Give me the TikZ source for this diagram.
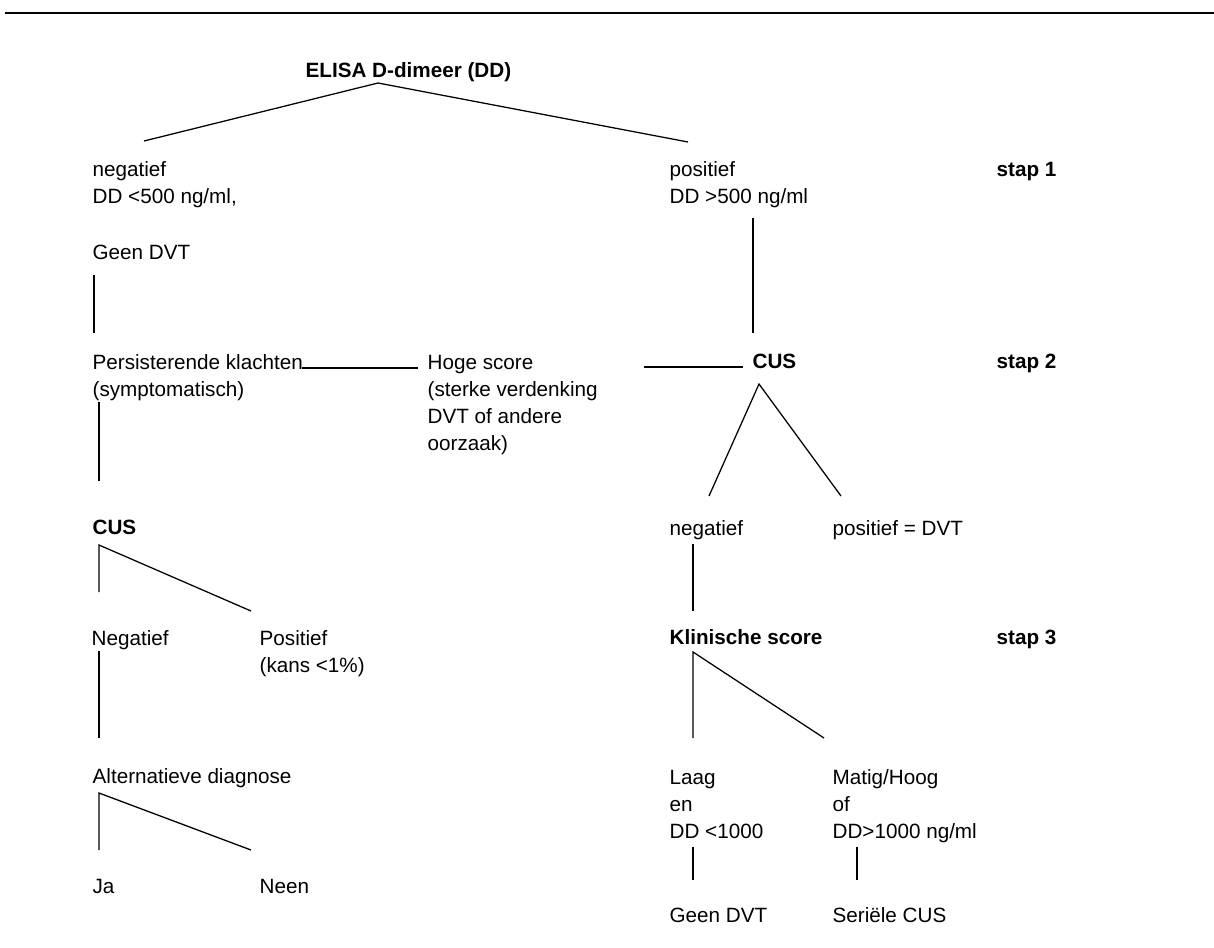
\documentclass[tikz,border=0pt]{standalone}
\usepackage{fontspec}
\setmainfont{Liberation Sans}
\usetikzlibrary{calc}

\begin{document}
\begin{tikzpicture}[x=0.025cm,y=-0.025cm,line width=0.9pt,
    tekst/.style={anchor=base west,inner sep=0pt,align=left,font=\fontsize{14.7}{19.2}\selectfont},
    vet/.style={tekst,font=\fontsize{14.7}{19.2}\selectfont\bfseries}]
    \useasboundingbox (0,0) rectangle (1214,947);
    \draw[line width=1.5pt] (5,13)--(1214,13);
    % stap 1 (meerregelige nodes: base = laatste regel)
    \node[vet] (root) at (305,77) {ELISA D-dimeer (DD)};
    \node[tekst] (neg1) at (92,203) {negatief\\DD <500 ng/ml,};
    \node[tekst] (pos1) at (669,203) {positief\\DD >500 ng/ml};
    \node[vet] (stap1) at (996,176) {stap 1};
    \node[tekst] (geen1) at (92,259) {Geen DVT};
    % stap 2
    \node[tekst] (pers) at (92,396) {Persisterende klachten\\(symptomatisch)};
    \node[tekst] (hoog) at (427,450) {Hoge score\\(sterke verdenking\\DVT of andere\\oorzaak)};
    \node[vet] (cusr) at (752,368) {CUS};
    \node[vet] (stap2) at (996,368) {stap 2};
    \node[vet] (cusl) at (92,534) {CUS};
    \node[tekst] (negr) at (669,535) {negatief};
    \node[tekst] (posr) at (832,535) {positief = DVT};
    \node[tekst] (negl) at (91,645) {Negatief};
    \node[tekst] (posl) at (259,672) {Positief\\(kans <1\%)};
    % stap 3
    \node[vet] (klin) at (669,644) {Klinische score};
    \node[vet] (stap3) at (996,644) {stap 3};
    \node[tekst] (alt) at (92,783) {Alternatieve diagnose};
    \node[tekst] (laag) at (669,838) {Laag\\en\\DD <1000};
    \node[tekst] (matig) at (832,838) {Matig/Hoog\\of\\DD>1000 ng/ml};
    \node[tekst] (ja) at (92,893) {Ja};
    \node[tekst] (neen) at (259,893) {Neen};
    \node[tekst] (geenr) at (669,922) {Geen DVT};
    \node[tekst] (serie) at (832,922) {Seriële CUS};
    % verbindingen
    \draw ($(neg1.base west)+(52,-62)$)--($(root.base west)+(73,6)$)--($(pos1.base west)+(19,-61)$);
    \draw ($(pos1.base west)+(84,15)$)--($(cusr.base west)+(1,-35)$);
    \draw ($(geen1.base west)+(2,16)$)--($(pers.base west)+(2,-63)$);
    \draw ($(pers.base west)+(210,-28)$)--($(hoog.base west)+(-9,-82)$);
    \draw ($(hoog.base west)+(217,-83)$)--($(cusr.base west)+(-9,-1)$);
    \draw ($(pers.base west)+(7,6)$)--($(cusl.base west)+(7,-53)$);
    \draw ($(negr.base west)+(40,-39)$)--($(cusr.base west)+(7,16)$)--($(posr.base west)+(9,-39)$);
    \draw ($(negr.base west)+(24,9)$)--($(klin.base west)+(24,-33)$);
    \draw ($(laag.base west)+(24,-100)$)--($(klin.base west)+(24,8)$)--($(matig.base west)+(-8,-100)$);
    \draw ($(laag.base west)+(24,9)$)--($(geenr.base west)+(24,-42)$);
    \draw ($(matig.base west)+(25,9)$)--($(serie.base west)+(25,-42)$);
    \draw ($(negl.base west)+(8,-53)$)--($(cusl.base west)+(7,11)$)--($(posl.base west)+(-8,-61)$);
    \draw ($(negl.base west)+(8,6)$)--($(alt.base west)+(7,-45)$);
    \draw ($(ja.base west)+(7,-43)$)--($(alt.base west)+(7,10)$)--($(neen.base west)+(-8,-43)$);
\end{tikzpicture}
\end{document}
